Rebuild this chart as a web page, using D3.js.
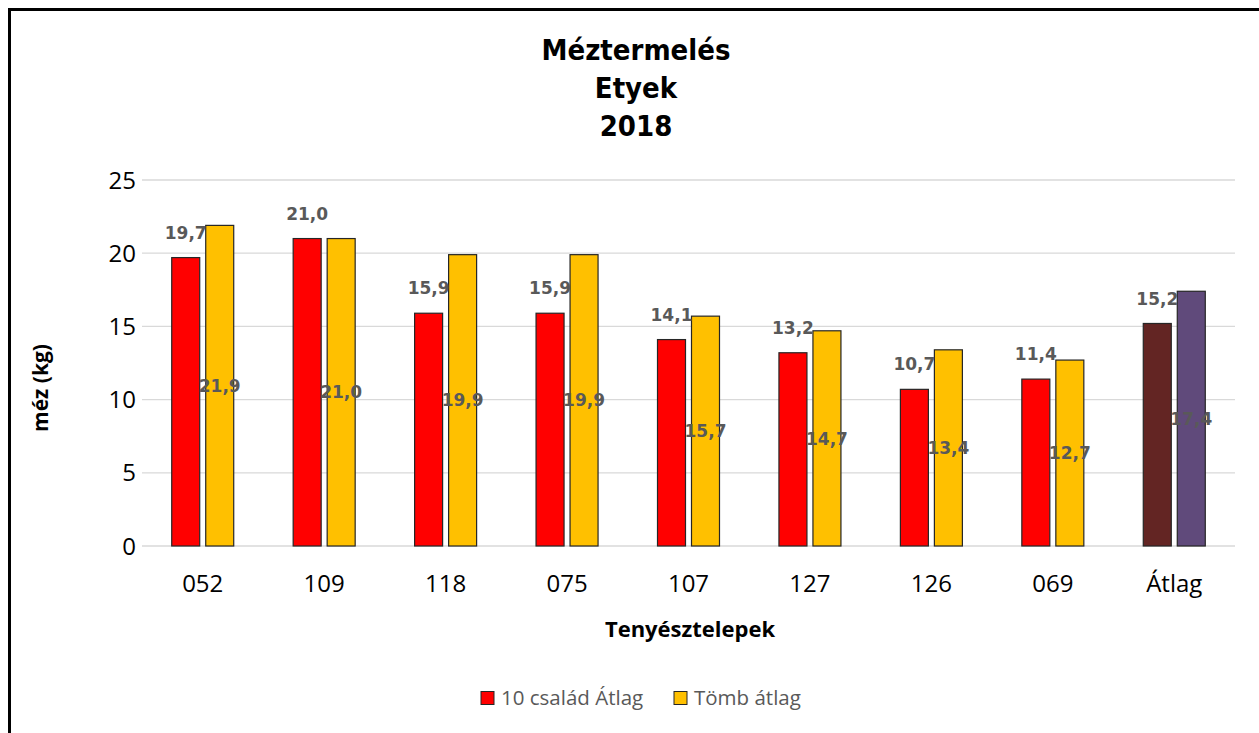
<!DOCTYPE html>
<html>
<head>
<meta charset="utf-8">
<script src="https://cdn.jsdelivr.net/npm/d3@7"></script>
<style>
  body { margin: 0; background: #fff; }
  svg { font-family: "Open Sans", sans-serif; }
</style>
</head>
<body>
<svg id="chart" width="1259" height="733"></svg>
<script>
// chart data
let titleLines = ["Méztermelés", "Etyek", "2018"];
let categories = ["052", "109", "118", "075", "107", "127", "126", "069", "Átlag"];
let seriesNames = ["10 család Átlag", "Tömb átlag"];
let familyAvg = [19.7, 21.0, 15.9, 15.9, 14.1, 13.2, 10.7, 11.4, 15.2];
let blockAvg = [21.9, 21.0, 19.9, 19.9, 15.7, 14.7, 13.4, 12.7, 17.4];
let yTicks = [0, 5, 10, 15, 20, 25];

let seriesColors = ["#ff0000", "#ffc000"];
let avgColors = ["#632523", "#604a7b"];

let svg = d3.select("#chart");

// frame
svg.append("rect").attr("x", 9.5).attr("y", 9.5).attr("width", 1260).attr("height", 740)
  .attr("fill", "none").attr("stroke", "#000").attr("stroke-width", 3);

let plot = {left: 142, right: 1235, top: 180, bottom: 546};

let x0 = d3.scaleBand().domain(categories).range([plot.left, plot.right]).paddingInner(0);
let y = d3.scaleLinear().domain([0, 25]).range([plot.bottom, plot.top]);
let x1 = d3.scaleBand().domain([0, 1]).range([-31, 31]).paddingInner(6 / 34).paddingOuter(0);

// grid
svg.append("g").selectAll("line").data(yTicks).enter().append("line")
  .attr("x1", plot.left).attr("x2", plot.right)
  .attr("y1", d => y(d)).attr("y2", d => y(d))
  .attr("stroke", "#d9d9d9").attr("stroke-width", 1.3);

// y tick labels
svg.append("g").selectAll("text").data(yTicks).enter().append("text")
  .attr("x", 136).attr("y", d => y(d)).attr("dy", "0.36em")
  .attr("text-anchor", "end").attr("font-size", 24).attr("fill", "#000")
  .text(d => d);

// bars
let rows = categories.map((c, i) => ({cat: c, i: i, vals: [familyAvg[i], blockAvg[i]]}));
let groups = svg.append("g").selectAll("g").data(rows).enter().append("g")
  .attr("transform", d => "translate(" + (x0(d.cat) + x0.bandwidth() / 2) + ",0)");

groups.selectAll("rect").data(d => d.vals.map((v, s) => ({v: v, s: s, last: d.cat === "Átlag"})))
  .enter().append("rect")
  .attr("x", d => x1(d.s)).attr("width", x1.bandwidth())
  .attr("y", d => y(d.v)).attr("height", d => y(0) - y(d.v))
  .attr("fill", d => d.last ? avgColors[d.s] : seriesColors[d.s])
  .attr("stroke", "#262626").attr("stroke-width", 1.2);

let fmt = v => d3.format(".1f")(v).replace(".", ",");

// labels: first series above the bar, second series in the middle
groups.selectAll("text.lbl").data(d => d.vals.map((v, s) => ({v: v, s: s})))
  .enter().append("text").attr("class", "lbl")
  .attr("x", d => x1(d.s) + x1.bandwidth() / 2)
  .attr("y", d => d.s === 0 ? y(d.v) - 25 : y(d.v / 2))
  .attr("dy", "0.36em")
  .attr("text-anchor", "middle")
  .style("font-family", "'DejaVu Sans', sans-serif")
  .attr("font-weight", "bold").attr("font-size", 17).attr("fill", "#595959")
  .text(d => fmt(d.v));

// category labels
svg.append("g").selectAll("text").data(categories).enter().append("text")
  .attr("x", d => x0(d) + x0.bandwidth() / 2).attr("y", 583).attr("dy", "0.36em")
  .attr("text-anchor", "middle").attr("font-size", 24).attr("fill", "#000")
  .text(d => d);

// title
svg.append("g").selectAll("text").data(titleLines).enter().append("text")
  .attr("x", 636).attr("y", (d, i) => 50 + i * 38).attr("dy", "0.36em")
  .attr("text-anchor", "middle").style("font-family", "'DejaVu Sans Condensed', 'DejaVu Sans', sans-serif")
  .attr("font-weight", "bold").attr("font-size", 29).attr("fill", "#000")
  .text(d => d);

// axis titles
svg.append("text").attr("x", 690).attr("y", 629).attr("dy", "0.36em")
  .attr("text-anchor", "middle").attr("font-weight", "bold").attr("font-size", 22)
  .text("Tenyésztelepek");
svg.append("text").attr("transform", "translate(40,388) rotate(-90)").attr("dy", "0.36em")
  .attr("text-anchor", "middle").attr("font-weight", "bold").attr("font-size", 21)
  .text("méz (kg)");

// legend
let legX = [481, 674];
let leg = svg.append("g").selectAll("g").data(seriesNames).enter().append("g")
  .attr("transform", (d, i) => "translate(" + legX[i] + ",698)");
leg.append("rect").attr("x", 0).attr("y", -6.5).attr("width", 13).attr("height", 13)
  .attr("fill", (d, i) => seriesColors[i]).attr("stroke", "#262626").attr("stroke-width", 1);
leg.append("text").attr("x", 20).attr("dy", "0.36em").attr("font-size", 20.5).attr("fill", "#595959")
  .text(d => d);
</script>
</body>
</html>
